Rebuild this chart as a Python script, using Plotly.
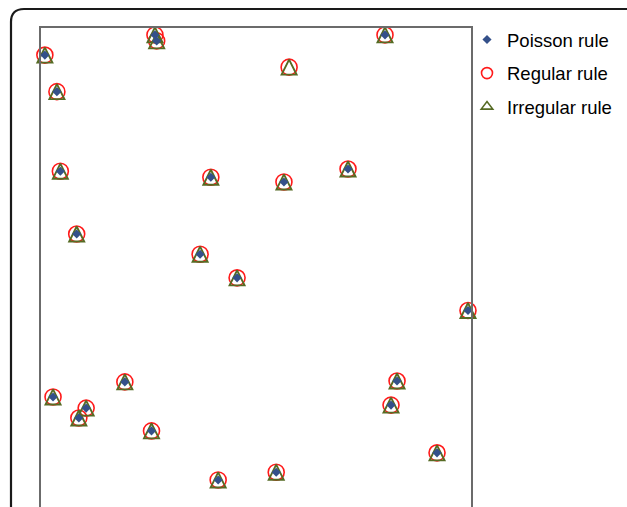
import plotly.graph_objects as go

# Site coordinates for each allocation rule (unit-width study region)
poisson_x = [0.009, 0.265, 0.269, 0.800, 0.037, 0.045, 0.395, 0.565, 0.714, 0.083,
             0.370, 0.456, 0.993, 0.195, 0.828, 0.028, 0.105, 0.088, 0.814, 0.257,
             0.921, 0.412, 0.547]
poisson_y = [1.137, 1.184, 1.170, 1.184, 1.052, 0.867, 0.853, 0.842, 0.872, 0.721,
             0.674, 0.619, 0.543, 0.377, 0.379, 0.342, 0.316, 0.293, 0.323, 0.263,
             0.212, 0.149, 0.167]

regular_x = [0.009, 0.265, 0.269, 0.800, 0.577, 0.037, 0.045, 0.395, 0.565, 0.714,
             0.083, 0.370, 0.456, 0.993, 0.195, 0.828, 0.028, 0.105, 0.088, 0.814,
             0.257, 0.921, 0.412, 0.547]
regular_y = [1.137, 1.184, 1.170, 1.184, 1.109, 1.052, 0.867, 0.853, 0.842, 0.872,
             0.721, 0.674, 0.619, 0.543, 0.377, 0.379, 0.342, 0.316, 0.293, 0.323,
             0.263, 0.212, 0.149, 0.167]

irregular_x = list(regular_x)
irregular_y = list(regular_y)

series_names = ["Poisson rule", "Regular rule", "Irregular rule"]

BLUE = "#34508a"
RED = "#ff1a1a"
OLIVE = "#566b24"

fig = go.Figure()

# Regular rule: open red circles
fig.add_trace(go.Scatter(
    x=regular_x, y=regular_y, mode="markers", showlegend=False, cliponaxis=False,
    marker=dict(symbol="circle-open", size=16, line=dict(color=RED, width=1.6), color=RED),
))
# Irregular rule: open olive triangles (arrow glyph rotated and centred on the site)
fig.add_trace(go.Scatter(
    x=irregular_x, y=irregular_y, mode="markers", showlegend=False, cliponaxis=False,
    marker=dict(symbol="arrow-down-open", size=15, angle=180, standoff=7.5,
                color=OLIVE, line=dict(color=OLIVE, width=1.9)),
))
# Poisson rule: small filled diamonds
fig.add_trace(go.Scatter(
    x=poisson_x, y=poisson_y, mode="markers", showlegend=False, cliponaxis=False,
    marker=dict(symbol="diamond", size=7, color=BLUE, line=dict(width=0)),
))

# Legend entries
fig.add_trace(go.Scatter(
    x=[None], y=[None], mode="markers", name=series_names[0], legendgroup="a",
    marker=dict(symbol="diamond", size=7, color=BLUE, line=dict(width=0)),
))
fig.add_trace(go.Scatter(
    x=[None], y=[None], mode="markers", name=series_names[1], legendgroup="b",
    marker=dict(symbol="circle-open", size=11, color=RED, line=dict(color=RED, width=1.6)),
))
fig.add_trace(go.Scatter(
    x=[None], y=[None], mode="markers", name=series_names[2], legendgroup="c",
    marker=dict(symbol="triangle-up-open", size=10, color=OLIVE, line=dict(color=OLIVE, width=1.6)),
))

W, H = 627, 507
L, R, T = 41, 471, 28


def px_to_paper(px, py):
    return (px - L) / (R - L), (H - py) / (H - T)


# rounded outer frame
pts = [(11, 530), (11, 22), (11, 9), (24, 9), (640, 9)]
pp = [px_to_paper(*p) for p in pts]
frame_path = (f"M {pp[0][0]},{pp[0][1]} L {pp[1][0]},{pp[1][1]} "
              f"Q {pp[2][0]},{pp[2][1]} {pp[3][0]},{pp[3][1]} L {pp[4][0]},{pp[4][1]}")

fig.update_layout(
    width=W, height=H,
    margin=dict(l=L, r=W - R, t=T, b=0, pad=0),
    paper_bgcolor="white", plot_bgcolor="white",
    font=dict(family="Liberation Sans, Arial, sans-serif", size=18.5, color="black"),
    showlegend=True,
    legend=dict(x=px_to_paper(467, 0)[0], y=px_to_paper(0, 21)[1], xanchor="left", yanchor="top",
                bgcolor="rgba(0,0,0,0)", borderwidth=0, traceorder="grouped",
                tracegroupgap=6.5, itemsizing="trace", font=dict(size=18.5)),
    xaxis=dict(range=[0, 1], showgrid=False, zeroline=False, showticklabels=False, ticks="",
               side="top", showline=True, linecolor="#6b6b6b", linewidth=2),
    yaxis=dict(range=[1.2 - (H - T) / (R - L), 1.2], showgrid=False, zeroline=False,
               showticklabels=False, ticks="", showline=True, mirror=True,
               linecolor="#6b6b6b", linewidth=2),
    shapes=[dict(type="path", xref="paper", yref="paper", path=frame_path,
                 line=dict(color="#1a1a1a", width=2.2), layer="above")],
)

fig.write_html("out.html", config={"displayModeBar": False})
